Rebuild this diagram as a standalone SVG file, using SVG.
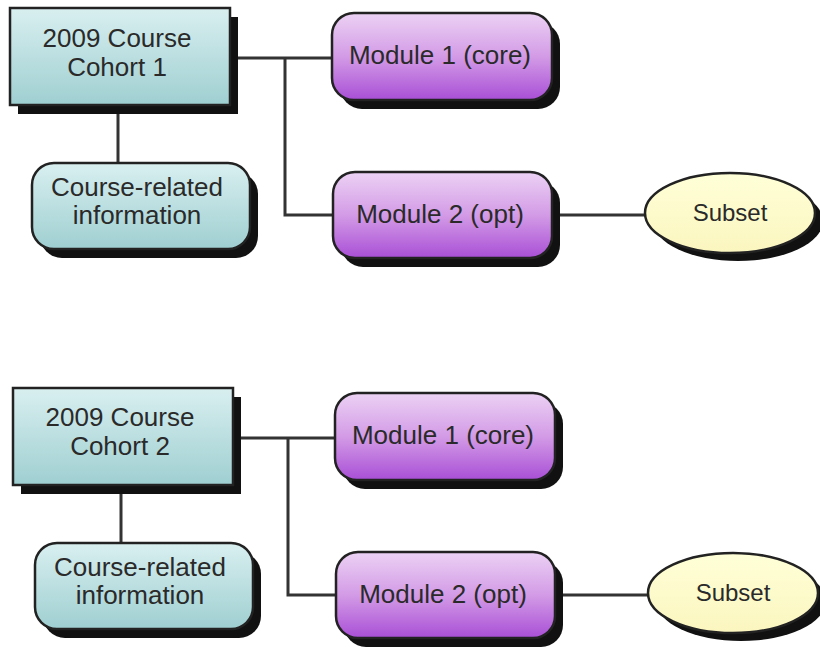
<svg xmlns="http://www.w3.org/2000/svg" width="820" height="648" viewBox="0 0 820 648">
<defs>
<linearGradient id="gTeal" x1="0" y1="0" x2="0" y2="1">
<stop offset="0" stop-color="#d9eff0"/>
<stop offset="1" stop-color="#9fcfd1"/>
</linearGradient>
<linearGradient id="gPurple" x1="0" y1="0" x2="0" y2="1">
<stop offset="0" stop-color="#ecd2f4"/>
<stop offset="0.5" stop-color="#d39be6"/>
<stop offset="1" stop-color="#a94fd6"/>
</linearGradient>
<linearGradient id="gYellow" x1="0" y1="0" x2="0" y2="1">
<stop offset="0" stop-color="#ffffd8"/>
<stop offset="1" stop-color="#fbf6bf"/>
</linearGradient>
</defs>
<style>
.sh{fill:#111;}
.teal{fill:url(#gTeal);stroke:#222;stroke-width:2.5;}
.purple{fill:url(#gPurple);stroke:#222;stroke-width:2.5;}
.yellow{fill:url(#gYellow);stroke:#222;stroke-width:2.5;}
.t{font-family:"Liberation Sans",Arial,sans-serif;font-size:26px;fill:#2a2a2a;text-anchor:middle;}
.s{font-size:24px;}
.c{fill:none;stroke:#333;stroke-width:3;}
</style>
<rect width="820" height="648" fill="#ffffff"/>
<g id="connectors">
<path class="c" d="M238 58 H333 M285 58 V215 H334"/>
<path class="c" d="M118 114 V163"/>
<path class="c" d="M558 215 H646"/>
<path class="c" d="M241 438 H336 M288 438 V595 H337"/>
<path class="c" d="M121 494 V543"/>
<path class="c" d="M561 595 H649"/>
</g>
<g id="cohort1">
<rect class="sh" x="18" y="17" width="220" height="97"/>
<rect class="teal" x="10" y="8" width="220" height="97"/>
<text class="t" x="117" y="47">2009 Course</text>
<text class="t" x="117" y="76">Cohort 1</text>
</g>
<g id="info1">
<rect class="sh" x="40" y="172" width="218" height="86" rx="22"/>
<rect class="teal" x="32" y="163" width="218" height="86" rx="22"/>
<text class="t" x="137" y="196">Course-related</text>
<text class="t" x="137" y="224">information</text>
</g>
<g id="module1a">
<rect class="sh" x="340" y="22" width="220" height="87" rx="22"/>
<rect class="purple" x="332" y="13" width="220" height="87" rx="22"/>
<text class="t" x="440" y="64">Module 1 (core)</text>
</g>
<g id="module2a">
<rect class="sh" x="341" y="181" width="219" height="86" rx="22"/>
<rect class="purple" x="333" y="172" width="219" height="86" rx="22"/>
<text class="t" x="440" y="223">Module 2 (opt)</text>
</g>
<g id="subset1">
<ellipse class="sh" cx="738" cy="221" rx="85" ry="40"/>
<ellipse class="yellow" cx="730" cy="213" rx="85" ry="40"/>
<text class="t s" x="730" y="221">Subset</text>
</g>
<g id="cohort2">
<rect class="sh" x="21" y="397" width="220" height="97"/>
<rect class="teal" x="13" y="388" width="220" height="97"/>
<text class="t" x="120" y="426">2009 Course</text>
<text class="t" x="120" y="455">Cohort 2</text>
</g>
<g id="info2">
<rect class="sh" x="43" y="552" width="218" height="86" rx="22"/>
<rect class="teal" x="35" y="543" width="218" height="86" rx="22"/>
<text class="t" x="140" y="576">Course-related</text>
<text class="t" x="140" y="604">information</text>
</g>
<g id="module1b">
<rect class="sh" x="343" y="402" width="220" height="87" rx="22"/>
<rect class="purple" x="335" y="393" width="220" height="87" rx="22"/>
<text class="t" x="443" y="444">Module 1 (core)</text>
</g>
<g id="module2b">
<rect class="sh" x="344" y="561" width="219" height="86" rx="22"/>
<rect class="purple" x="336" y="552" width="219" height="86" rx="22"/>
<text class="t" x="443" y="603">Module 2 (opt)</text>
</g>
<g id="subset2">
<ellipse class="sh" cx="741" cy="601" rx="85" ry="40"/>
<ellipse class="yellow" cx="733" cy="593" rx="85" ry="40"/>
<text class="t s" x="733" y="601">Subset</text>
</g>
</svg>
